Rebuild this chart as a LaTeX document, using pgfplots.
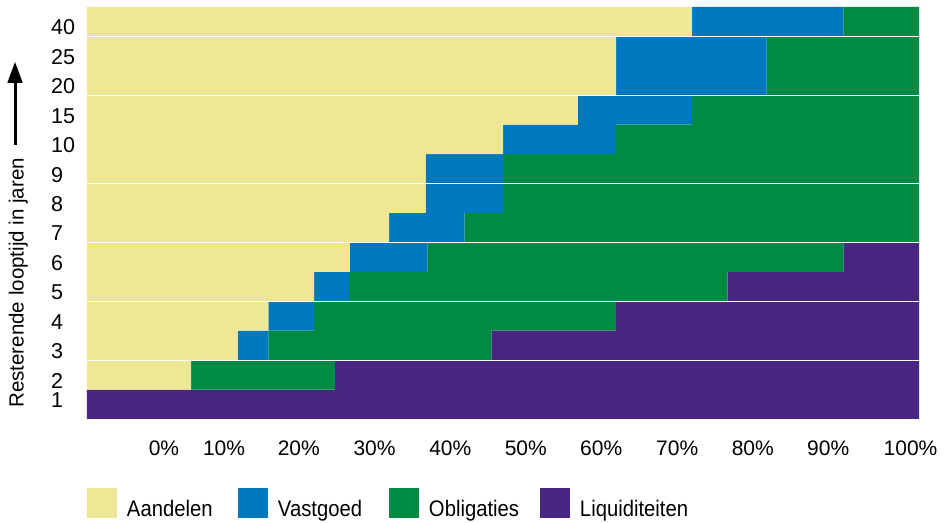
\documentclass[border=0pt]{standalone}
\usepackage{fontspec}
\setmainfont{Liberation Sans}
\newfontfamily\condfont[FakeStretch=0.9]{Liberation Sans}
\usepackage{pgfplots}
\pgfplotsset{compat=1.18}
\usepackage{pgfplotstable}
\usetikzlibrary{arrows.meta}

\definecolor{cA}{RGB}{238,231,150}
\definecolor{cV}{RGB}{0,121,190}
\definecolor{cO}{RGB}{0,138,67}
\definecolor{cL}{RGB}{72,38,130}

% row 0 = 1 jaar ... row 13 = 40 jaar; shares in %
\pgfplotstableread{
row  A     V     O     L
0    0     0     0     100
1    12.5  0     17.3  70.2
2    18.1  3.7   26.8  51.4
3    21.8  5.5   36.3  36.4
4    27.3  4.2   45.5  23.0
5    31.6  9.3   50.0  9.1
6    36.3  9.1   54.6  0
7    40.7  9.4   49.9  0
8    40.7  9.4   49.9  0
9    50.0  13.6  36.4  0
10   59.0  13.7  27.3  0
11   63.6  18.1  18.3  0
12   63.6  18.1  18.3  0
13   72.7  18.2  9.1   0
}\alloc

\begin{document}
\begin{tikzpicture}
\begin{axis}[
    scale only axis,
    width=832pt, height=412pt,
    xbar stacked, bar width=1,
    xmin=0, xmax=100, ymin=-0.5, ymax=13.5,
    enlargelimits=false,
    clip=false,
    axis on top,
    axis line style={draw=none},
    major tick length=0pt,
    ytick={0.136,0.803,1.803,2.803,3.803,4.803,5.803,6.803,7.803,8.803,9.803,10.803,11.803,12.803},
    yticklabels={1,2,3,4,5,6,7,8,9,10,15,20,25,40},
    yticklabel style={anchor=west, inner sep=0pt, xshift=-36pt, font=\fontsize{21.5}{24}\selectfont},
    xtick={9.25,16.47,25.46,34.56,43.67,52.74,61.81,70.94,80.02,89.09,98.98},
    xticklabels={0\%,10\%,20\%,30\%,40\%,50\%,60\%,70\%,80\%,90\%,100\%},
    xticklabel style={anchor=base, inner sep=0pt, yshift=-36.7pt, font=\fontsize{21}{24}\selectfont},
    extra y ticks={1.5,3.5,5.5,7.5,10.5,12.5},
    extra y tick labels={},
    extra y tick style={grid=major, major grid style={white, line width=1.2pt}},
    ylabel={Resterende looptijd in jaren},
    ylabel style={at={(axis description cs:-0.0763,0.3306)}, anchor=base, font=\fontsize{20.5}{24}\selectfont},
    legend columns=4,
    legend style={at={(axis description cs:0,-0.1682)}, anchor=north west,
        draw=none, fill=none, inner sep=0pt, outer sep=0pt,
        nodes={inner sep=0pt}, cells={anchor=base west},
        font=\condfont\fontsize{22.5}{26}\selectfont},
    legend image code/.code={\fill[#1] (0pt,-2pt) rectangle (30pt,28pt);},
]
\addplot[fill=cA, draw=none] table[x=A, y=row] {\alloc};
\addlegendentry{\makebox[121pt][l]{\hspace{10pt}Aandelen}}
\addplot[fill=cV, draw=none] table[x=V, y=row] {\alloc};
\addlegendentry{\makebox[121pt][l]{\hspace{10pt}Vastgoed}}
\addplot[fill=cO, draw=none] table[x=O, y=row] {\alloc};
\addlegendentry{\makebox[121pt][l]{\hspace{10pt}Obligaties}}
\addplot[fill=cL, draw=none] table[x=L, y=row] {\alloc};
\addlegendentry{\makebox[121pt][l]{\hspace{10pt}Liquiditeiten}}

\draw[line width=3pt, -{Triangle[width=14.5pt,length=21pt]}]
    (axis description cs:-0.0865,0.665) -- (axis description cs:-0.0865,0.867);

\coordinate (bbsw) at (axis description cs:-0.10457,-0.25243);
\coordinate (bbne) at (axis description cs:1.03245,1.01699);
\end{axis}
\pgfresetboundingbox
\path (bbsw) rectangle (bbne);
\end{tikzpicture}
\end{document}
